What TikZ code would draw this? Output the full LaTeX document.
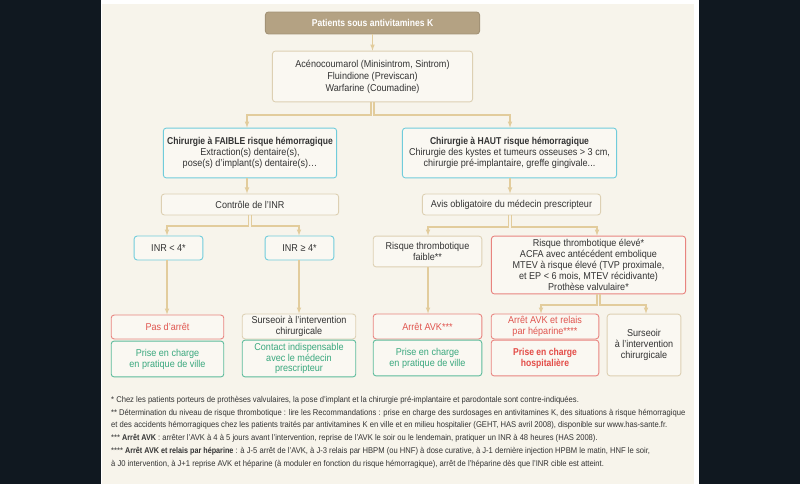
\documentclass[tikz,border=0pt]{standalone}
\usepackage{fontspec}
\setmainfont{Liberation Sans}[FakeStretch=0.91,BoldFeatures={FakeStretch=0.86}]
\definecolor{fondnoir}{HTML}{101820}
\definecolor{fondbeige}{HTML}{F7F4EB}
\definecolor{fondboite}{HTML}{FAF8F2}
\definecolor{taupe}{HTML}{B4A283}
\definecolor{bordbeige}{HTML}{DDD0B3}
\definecolor{ocre}{HTML}{E2CC9C}
\definecolor{bordbleu}{HTML}{70CCDB}
\definecolor{bordrouge}{HTML}{E8847F}
\definecolor{texterouge}{HTML}{E0554F}
\definecolor{bordvert}{HTML}{5DBB9B}
\definecolor{textevert}{HTML}{3AA87E}
\definecolor{texte}{HTML}{333333}
\begin{document}
\begin{tikzpicture}[x=1bp,y=-1bp,
  boite/.style={draw=bordbeige,fill=fondboite,rounded corners=3bp,line width=0.9bp,
    align=center,inner sep=0pt,text=texte,font=\fontsize{10}{10.9}\selectfont},
  bleu/.style={boite,draw=bordbleu},
  rouge/.style={boite,draw=bordrouge,text=texterouge},
  vert/.style={boite,draw=bordvert,text=textevert},
  titre/.style={boite,fill=taupe,draw=taupe!90!black,text=white,font=\bfseries\fontsize{10}{10}\selectfont},
  fleche/.style={draw=ocre,line width=1.1bp,->,>=latex},
  ligne/.style={draw=ocre,line width=1.1bp}]
\useasboundingbox (0,0) rectangle (800,484);
\fill[fondnoir] (0,0) rectangle (800,484);
\fill[white] (101,0) rectangle (699,484);
\fill[fondbeige] (102,4) rectangle (694,484);

\node[titre,minimum width=215,minimum height=22] (patients) at (372.5,23) {Patients sous antivitamines K};
\node[boite,minimum width=201,minimum height=51,font=\fontsize{10}{12}\selectfont] (medic) at (372.5,76.5)
  {Acénocoumarol (Minisintrom, Sintrom)\\Fluindione (Previscan)\\Warfarine (Coumadine)};

\node[bleu,minimum width=174,minimum height=50] (faible) at (250,153)
  {\textbf{Chirurgie à FAIBLE risque hémorragique}\\Extraction(s) dentaire(s),\\pose(s) d’implant(s) dentaire(s)…};
\node[bleu,minimum width=215,minimum height=50] (haut) at (509.5,153)
  {\textbf{Chirurgie à HAUT risque hémorragique}\\Chirurgie des kystes et tumeurs osseuses > 3 cm,\\chirurgie pré-implantaire, greffe gingivale...};

\node[boite,minimum width=178,minimum height=21] (controle) at (250,204.5) {Contrôle de l’INR};
\node[boite,minimum width=179,minimum height=21] (avis) at (511.5,204.5) {Avis obligatoire du médecin prescripteur};

\node[bleu,minimum width=69,minimum height=24] (inrbas) at (168.5,248) {INR < 4*};
\node[bleu,minimum width=69,minimum height=24] (inrhaut) at (299.5,248) {INR ≥ 4*};
\node[boite,minimum width=109,minimum height=31] (thrfaible) at (427.5,251.5) {Risque thrombotique\\faible**};
\node[rouge,minimum width=195,minimum height=58,text=texte] (threleve) at (588.5,265)
  {Risque thrombotique élevé*\\ACFA avec antécédent embolique\\MTEV à risque élevé (TVP proximale,\\et EP < 6 mois, MTEV récidivante)\\Prothèse valvulaire*};

\node[rouge,minimum width=113,minimum height=24] (pasarret) at (167.5,327) {Pas d’arrêt};
\node[vert,minimum width=113,minimum height=36] (ville1) at (167.5,359) {Prise en charge\\en pratique de ville};
\node[boite,minimum width=114,minimum height=25] (surseoir1) at (299,326.5) {Surseoir à l’intervention\\chirurgicale};
\node[vert,minimum width=114,minimum height=37] (contact) at (299,358.5) {Contact indispensable\\avec le médecin\\prescripteur};
\node[rouge,minimum width=109,minimum height=25] (arretavk) at (427.5,326.5) {Arrêt AVK***};
\node[vert,minimum width=109,minimum height=36] (ville2) at (427.5,358) {Prise en charge\\en pratique de ville};
\node[rouge,minimum width=108,minimum height=25] (relais) at (545,326.5) {Arrêt AVK et relais\\par héparine****};
\node[rouge,minimum width=108,minimum height=36,text=texterouge!90!red] (hosp) at (545,358) {\textbf{Prise en charge}\\\textbf{hospitalière}};
\node[boite,minimum width=74,minimum height=62] (surseoir2) at (644,345) {Surseoir\\à l’intervention\\chirurgicale};

% embranchements
\coordinate (g1) at (247,115);
\coordinate (d1) at (510,115);
\coordinate (g2) at (167,226);
\coordinate (d2) at (299,226);
\coordinate (g3) at (428,227);
\coordinate (d3) at (597,227);
\coordinate (g4) at (541,305);
\coordinate (d4) at (646,305);

\draw[fleche] (patients) -- (medic);
\draw[fleche] ([xshift=-1.5]medic.south) |- (g1) -- (g1 |- faible.north);
\draw[fleche] ([xshift=1.5]medic.south) |- (d1) -- (d1 |- haut.north);
\draw[fleche] (faible.south -| g1) -- (controle.north -| g1);
\draw[fleche] (haut.south -| d1) -- (avis.north -| d1);
\draw[fleche] ([xshift=-1.5]controle.south) |- (g2) -- (g2 |- inrbas.north);
\draw[fleche] ([xshift=1.5]controle.south) |- (d2) -- (d2 |- inrhaut.north);
\draw[fleche] ([xshift=-3]avis.south) |- (g3) -- (g3 |- thrfaible.north);
\draw[fleche] (avis.south) |- (d3) -- (d3 |- threleve.north);
\draw[fleche] (inrbas.south -| g2) -- (pasarret.north -| g2);
\draw[fleche] (inrhaut.south -| d2) -- (surseoir1.north -| d2);
\draw[fleche] (thrfaible.south -| g3) -- (arretavk.north -| g3);
\draw[fleche] ([xshift=8.5]threleve.south) |- (g4) -- (g4 |- relais.north);
\draw[fleche] ([xshift=11.5]threleve.south) |- (d4) -- (d4 |- surseoir2.north);

\node[anchor=north west,align=left,inner sep=0pt,text=texte,font=\fontsize{8.4}{12.8}\selectfont] (notes) at (111,396)
  {* Chez les patients porteurs de prothèses valvulaires, la pose d’implant et la chirurgie pré-implantaire et parodontale sont contre-indiquées.\\
   ** Détermination du niveau de risque thrombotique : lire les Recommandations : prise en charge des surdosages en antivitamines K, des situations à risque hémorragique\\
   et des accidents hémorragiques chez les patients traités par antivitamines K en ville et en milieu hospitalier (GEHT, HAS avril 2008), disponible sur www.has-sante.fr.\\
   *** \textbf{Arrêt AVK} : arrêter l’AVK à 4 à 5 jours avant l’intervention, reprise de l’AVK le soir ou le lendemain, pratiquer un INR à 48 heures (HAS 2008).\\
   **** \textbf{Arrêt AVK et relais par héparine} : à J-5 arrêt de l’AVK, à J-3 relais par HBPM (ou HNF) à dose curative, à J-1 dernière injection HPBM le matin, HNF le soir,\\
   à J0 intervention, à J+1 reprise AVK et héparine (à moduler en fonction du risque hémorragique), arrêt de l’héparine dès que l’INR cible est atteint.};

\end{tikzpicture}
\end{document}
